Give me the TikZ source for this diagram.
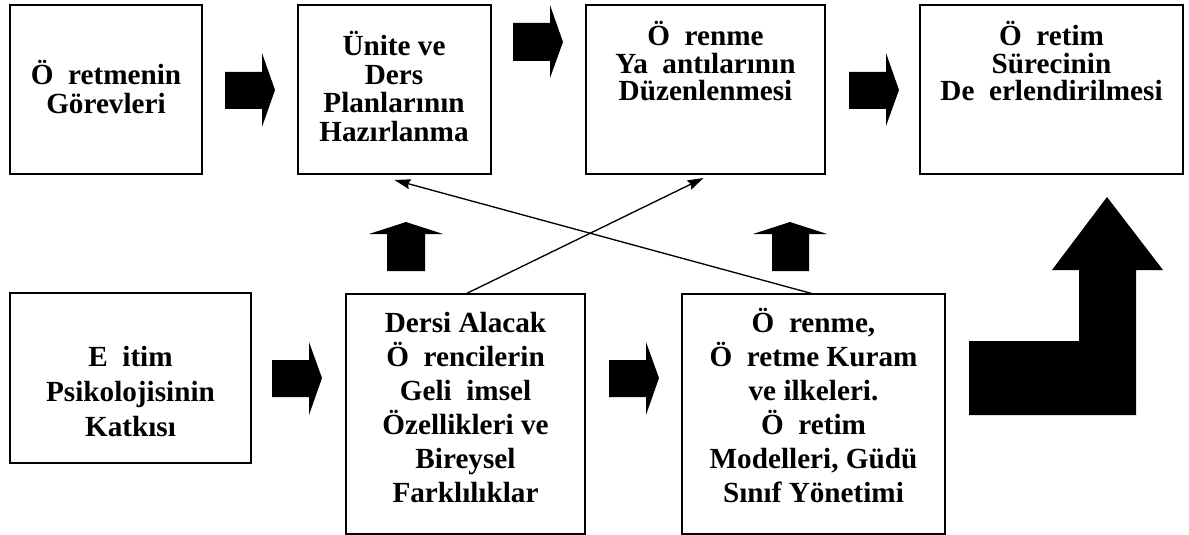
\documentclass[tikz,border=0pt]{standalone}
\usepackage{fontspec}
\setmainfont{Liberation Serif}
\usetikzlibrary{arrows.meta,calc}
\newcommand\tfnt[1]{\bfseries\fontsize{21.9pt}{#1}\selectfont\lineskiplimit=-\maxdimen}
\newcommand\fs{\rule{0pt}{20pt}}
\tikzset{
  box/.style={draw, line width=1.2pt, inner sep=0pt, outer sep=0pt, anchor=north west},
  txt/.style={align=center, inner sep=0pt, outer sep=0pt, anchor=north},
  blk/.style={fill=black, draw=none},
  link/.style={line width=1pt, -{Stealth[length=12pt,width=7.5pt,inset=1.5pt]}}
}
\begin{document}
\begin{tikzpicture}[x=0.75pt,y=-0.75pt]
\useasboundingbox (0,0) rectangle (1189,535);
% boxes
\node[box, minimum width=144pt, minimum height=126.75pt] (b1) at (10,5) {};
\node[box, minimum width=144.75pt, minimum height=126.75pt] (b2) at (298,5) {};
\node[box, minimum width=179.25pt, minimum height=126.75pt] (b3) at (586,5) {};
\node[box, minimum width=197.25pt, minimum height=126.75pt] (b4) at (920,5) {};
\node[box, minimum width=180.75pt, minimum height=127.5pt] (b5) at (10,293) {};
\node[box, minimum width=179.25pt, minimum height=180pt] (b6) at (346,294) {};
\node[box, minimum width=197.25pt, minimum height=180pt] (b7) at (682,294) {};
% texts
\node[txt, font={\tfnt{21.3pt}}] (t1) at (106,58.33) {\fs Ö\ \ retmenin\\Görevleri};
\node[txt, font={\tfnt{21.3pt}}] (t2) at (394,29.33) {\fs Ünite ve\\Ders\\Planlarının\\Hazırlanma};
\node[txt, font={\tfnt{20.5pt}}] (t3) at (705.5,19.33) {\fs Ö\ \ renme\\Ya\ \ antılarının\\Düzenlenmesi};
\node[txt, font={\tfnt{20.5pt}}] (t4) at (1051.5,19.33) {\fs Ö\ \ retim\\Sürecinin\\De\ \ erlendirilmesi};
\node[txt, font={\tfnt{26.25pt}}] (t5) at (130.5,339.33) {\fs E\ \ itim\\Psikolojisinin\\Katkısı};
\node[txt, font={\tfnt{25.5pt}}] (t6) at (465.5,305.33) {\fs Dersi Alacak\\Ö\ \ rencilerin\\Geli\ \ imsel\\Özellikleri ve\\Bireysel\\Farklılıklar};
\node[txt, font={\tfnt{25.5pt}}] (t7) at (813.5,305.33) {\fs Ö\ \ renme,\\Ö\ \ retme Kuram\\ve ilkeleri.\\Ö\ \ retim\\Modelleri, Güdü\\Sınıf Yönetimi};
% block arrows (right)
\fill[blk] (225,72) -- (262,72) -- (262,53) -- (275,90) -- (262,127) -- (262,109) -- (225,109) -- cycle;
\fill[blk] (513,23) -- (550,23) -- (550,5) -- (563,42) -- (550,78) -- (550,61) -- (513,61) -- cycle;
\fill[blk] (849,72) -- (886,72) -- (886,53) -- (899,90) -- (886,126) -- (886,109) -- (849,109) -- cycle;
\fill[blk] (272,360) -- (309,360) -- (309,342) -- (322,378) -- (309,415) -- (309,397) -- (272,397) -- cycle;
\fill[blk] (609,360) -- (646,360) -- (646,342) -- (659,378) -- (646,415) -- (646,397) -- (609,397) -- cycle;
% block arrows (up)
\fill[blk] (406,222) -- (443,234) -- (425,234) -- (425,271) -- (387,271) -- (387,234) -- (369,234) -- cycle;
\fill[blk] (790,222) -- (827,234) -- (809,234) -- (809,271) -- (772,271) -- (772,234) -- (753,234) -- cycle;
% big bent arrow
\fill[blk] (1107,197) -- (1163,270) -- (1136,270) -- (1136,415) -- (969,415) -- (969,341) -- (1079,341) -- (1079,270) -- (1052,270) -- cycle;
% thin connectors
\coordinate (e2) at ($(b2.south)+(0,6)$);
\coordinate (e3) at ($(b3.south)+(-2,4)$);
\draw[link] (b7.north) -- (e2);
\draw[link] (b6.north) -- (e3);
\end{tikzpicture}
\end{document}
